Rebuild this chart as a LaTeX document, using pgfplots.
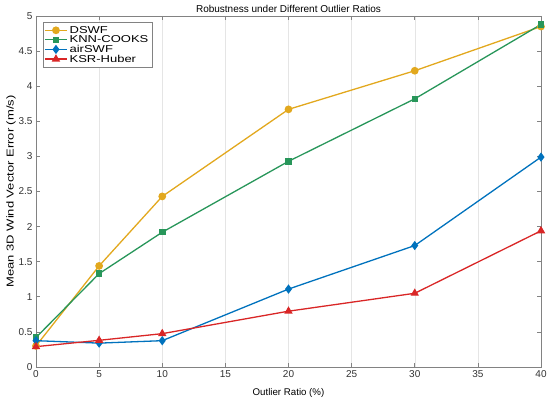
\documentclass[border=0pt]{standalone}
\usepackage{pgfplots}
\pgfplotsset{compat=1.18}
\usepackage{fontspec}
\setmainfont{Liberation Sans}
\newfontfamily\widefont[FakeStretch=1.3]{Liberation Sans}
\definecolor{cD}{RGB}{226,168,30}
\definecolor{cK}{RGB}{40,150,90}
\definecolor{cA}{RGB}{0,114,189}
\definecolor{cR}{RGB}{217,38,38}
\definecolor{axgray}{RGB}{130,130,130}
\begin{document}
\begin{tikzpicture}
\begin{axis}[
  scale only axis, width=505pt, height=351pt,
  xmin=0, xmax=40, ymin=0, ymax=5,
  xtick={0,5,...,40}, ytick={0,0.5,...,5},
  yticklabels={0,0.5,1,1.5,2,2.5,3,3.5,4,4.5,5},
  tick align=inside, tick pos=both,
  major tick length=4pt,
  axis line style={axgray, line width=0.6pt},
  tick style={axgray, line width=0.6pt},
  xmajorgrids, grid style={gray!20, line width=0.5pt},
  /pgf/number format/assume math mode=true,
  ticklabel style={font=\fontsize{10}{12}\selectfont, text=black!80},
  title={Robustness under Different Outlier Ratios},
  title style={font=\fontsize{10}{12}\selectfont, yshift=-6pt},
  xlabel={Outlier Ratio (\%)},
  ylabel={Mean 3D Wind Vector Error (m/s)},
  xlabel style={font=\fontsize{9.7}{12}\selectfont, yshift=-4pt},
  ylabel style={font=\widefont\fontsize{10}{12}\selectfont, yshift=-4pt},
  legend style={font=\widefont\fontsize{10}{11}\selectfont, draw=axgray, line width=0.5pt, inner sep=1.5pt, row sep=-3pt, at={(0.013,0.982)}, anchor=north west},
  legend cell align=left,
  legend image code/.code={\draw[#1] (0pt,0pt) -- (22pt,0pt); \draw[#1, only marks] plot coordinates {(11pt,0pt)};},
  every axis plot/.append style={line width=1.3pt},
]
\addplot[cD, mark=*, mark size=3.2pt] coordinates {(0,0.30) (5,1.44) (10,2.43) (20,3.67) (30,4.22) (40,4.85)};
\addlegendentry{DSWF}
\addplot[cK, mark=square*, mark size=2.6pt] coordinates {(0,0.42) (5,1.33) (10,1.92) (20,2.93) (30,3.82) (40,4.88)};
\addlegendentry{KNN-COOKS}
\addplot[cA, mark=diamond*, mark size=3.6pt] coordinates {(0,0.375) (5,0.34) (10,0.375) (20,1.11) (30,1.73) (40,2.99)};
\addlegendentry{airSWF}
\addplot[cR, mark=triangle*, mark size=3.6pt] coordinates {(0,0.29) (5,0.38) (10,0.475) (20,0.795) (30,1.05) (40,1.94)};
\addlegendentry{KSR-Huber}
\end{axis}
\pgfresetboundingbox
\path ([shift={(-36pt,-33pt)}]current axis.south west) rectangle ([shift={(9pt,16pt)}]current axis.north east);
\end{tikzpicture}
\end{document}
